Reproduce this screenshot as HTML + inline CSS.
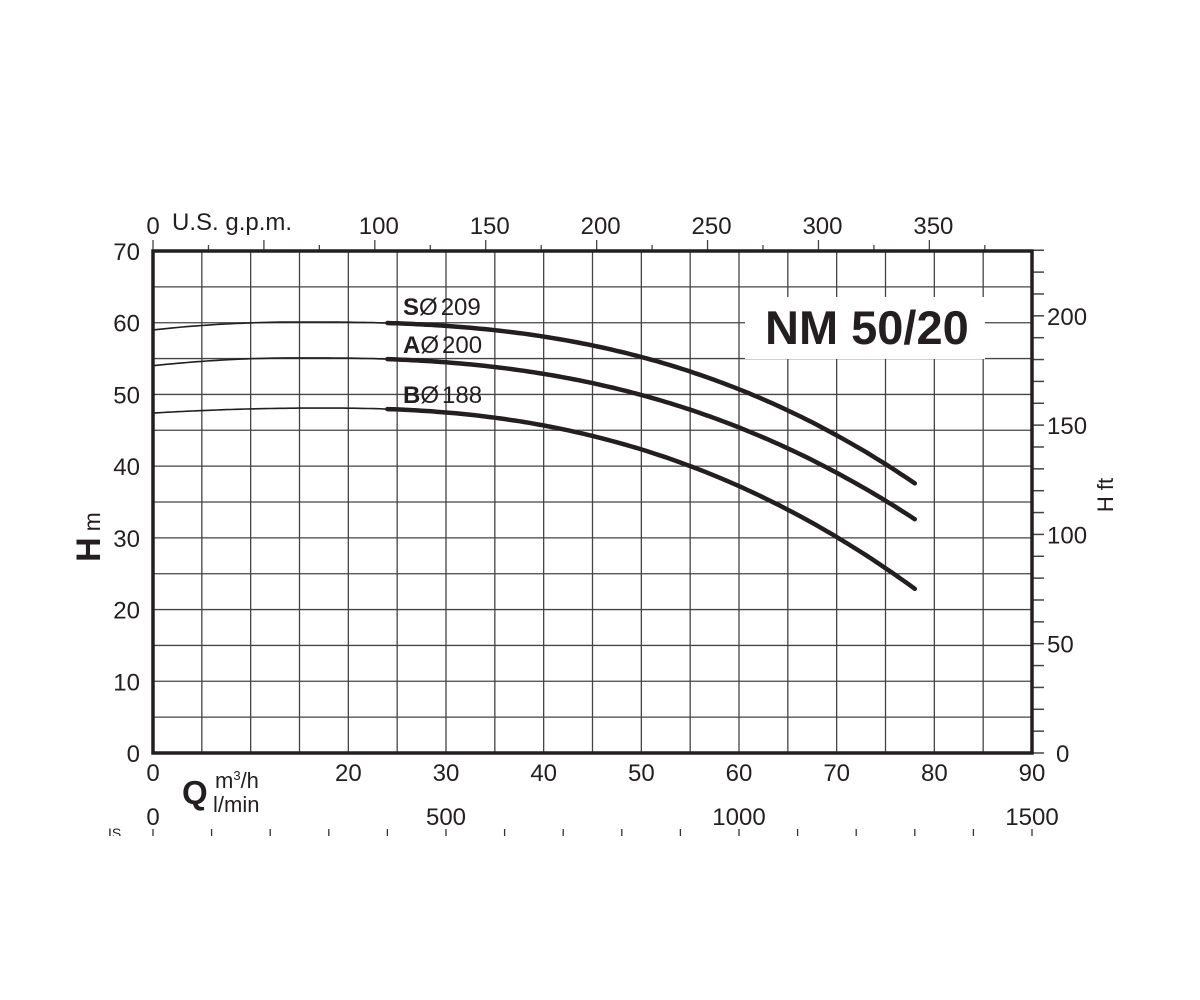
<!DOCTYPE html>
<html><head><meta charset="utf-8"><style>
html,body{margin:0;padding:0;background:#fff}
svg{display:block}
text{font-family:"Liberation Sans",Arial,sans-serif;fill:#231f20}
</style></head><body>
<svg id="s" width="1200" height="1000" viewBox="0 0 1200 1000" xmlns="http://www.w3.org/2000/svg"></svg>
<script>
const s=document.getElementById('s');
const L=153,R=1032,T=251,B=753;
const X=q=>L+q*(R-L)/90, Y=h=>B-h*(B-T)/70;
let o='';
for(let q=5;q<90;q+=5)o+=`<line x1="${X(q)}" y1="${T}" x2="${X(q)}" y2="${B}" stroke="#444" stroke-width="1.3"/>`;
for(let h=5;h<70;h+=5)o+=`<line x1="${L}" y1="${Y(h)}" x2="${R}" y2="${Y(h)}" stroke="#444" stroke-width="1.3"/>`;
for(let g=0;g<=375;g+=25){const x=X(g*0.22712);o+=`<line x1="${x}" y1="${T}" x2="${x}" y2="${T-(g%50==0?11:6)}" stroke="#444" stroke-width="1.3"/>`;}
for(let f=0;f<=230;f+=10){const y=Y(f*0.3048);o+=`<line x1="${R}" y1="${y}" x2="${R+12}" y2="${y}" stroke="#444" stroke-width="1.5"/>`;}
for(let l=0;l<=1500;l+=100){const x=X(l*0.06);o+=`<line x1="${x}" y1="829" x2="${x}" y2="837" stroke="#333" stroke-width="1.3"/>`;}
o+=`<rect x="0" y="836" width="1200" height="20" fill="#fff"/>`;
o+=`<text x="108" y="838" font-size="14">IS</text><rect x="100" y="836" width="50" height="10" fill="#fff"/>`;
o+=`<rect x="${L}" y="${T}" width="${R-L}" height="${B-T}" fill="none" stroke="#231f20" stroke-width="3.5"/>`;
o+=`<rect x="745" y="297" width="240" height="62" fill="#fff"/>`;
o+=`<text x="765" y="344" font-size="47" font-weight="bold">NM 50/20</text>`;
function curve(h0,hs,qf,hend,p){
 let thin='',thick='';
 for(let q=0;q<=78;q+=0.5){
  let h;
  if(q<qf)h=h0-(h0-hs)*Math.pow((qf-q)/qf,2);
  else h=h0-(h0-hend)*Math.pow((q-qf)/(78-qf),p);
  const pt=`${X(q).toFixed(1)},${Y(h).toFixed(1)} `;
  if(q<=24)thin+=pt;
  if(q>=24)thick+=pt;
 }
 o+=`<polyline points="${thin}" fill="none" stroke="#231f20" stroke-width="1.6"/>`;
 o+=`<polyline points="${thick}" fill="none" stroke="#231f20" stroke-width="4.5" stroke-linecap="round"/>`;
}
curve(60.1,59,15,37.6,2.6);
curve(55.1,54,15,32.6,2.5);
curve(48.1,47.4,17,22.9,2.4);
o+=`<text x="403" y="315" font-size="24"><tspan font-weight="bold">S</tspan>Ø<tspan dx="3">209</tspan></text>`;
o+=`<text x="403" y="353" font-size="24"><tspan font-weight="bold">A</tspan>Ø<tspan dx="3">200</tspan></text>`;
o+=`<text x="403" y="403" font-size="24"><tspan font-weight="bold">B</tspan>Ø<tspan dx="3">188</tspan></text>`;
for(let h=0;h<=70;h+=10)o+=`<text x="140" y="${Y(h)+9}" font-size="24" text-anchor="end">${h}</text>`;
for(let f=0;f<=200;f+=50)o+=`<text x="${f==0?1056:1047}" y="${Y(f*0.3048)+9}" font-size="24">${f}</text>`;
o+=`<text x="${X(0)}" y="781" font-size="24" text-anchor="middle">0</text>`;
for(let q=20;q<=90;q+=10)o+=`<text x="${X(q)}" y="781" font-size="24" text-anchor="middle">${q}</text>`;
o+=`<text x="${X(0)}" y="825" font-size="24" text-anchor="middle">0</text>`;
[500,1000,1500].forEach(l=>o+=`<text x="${X(l*0.06)}" y="825" font-size="24" text-anchor="middle">${l}</text>`);
o+=`<text x="182" y="804" font-size="33" font-weight="bold">Q</text>`;
o+=`<text x="215" y="788" font-size="22">m<tspan font-size="13" dy="-8">3</tspan><tspan dy="8">/h</tspan></text>`;
o+=`<text x="213" y="812" font-size="22">l/min</text>`;
o+=`<text x="${X(0)}" y="234" font-size="24" text-anchor="middle">0</text>`;
o+=`<text x="172" y="230" font-size="24">U.S. g.p.m.</text>`;
for(let g=100;g<=350;g+=50)o+=`<text x="${X(g*0.22712)+4}" y="234" font-size="24" text-anchor="middle">${g}</text>`;
o+=`<text transform="translate(100,537) rotate(-90)" font-size="34" font-weight="bold" text-anchor="middle">H<tspan font-weight="normal" font-size="23" dx="6">m</tspan></text>`;
o+=`<text transform="translate(1113,495) rotate(-90)" font-size="22" text-anchor="middle">H ft</text>`;
s.innerHTML=o;
</script>
</body></html>
